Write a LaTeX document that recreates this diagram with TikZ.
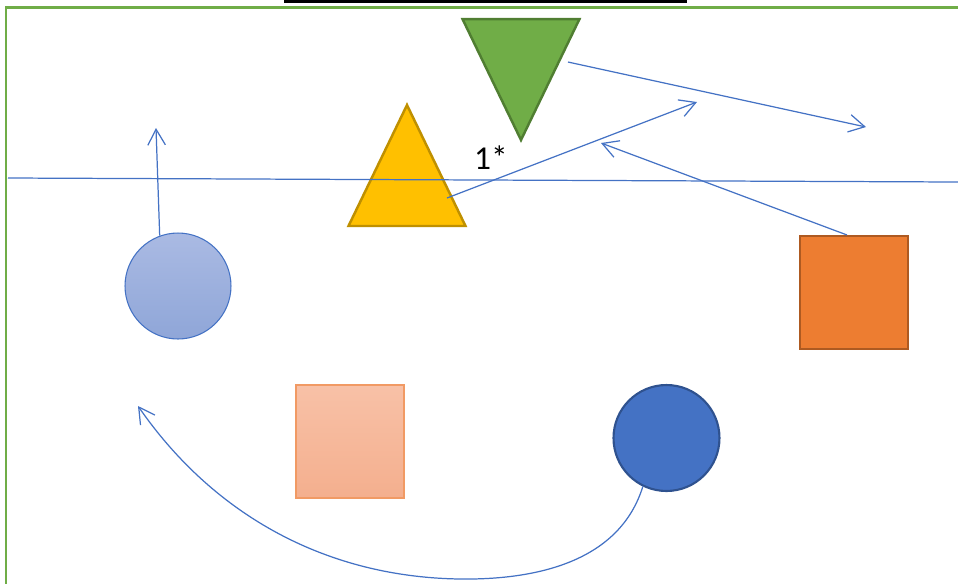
\documentclass[tikz,border=0pt]{standalone}
\usepackage{fontspec}
\setmainfont{Carlito}
\usetikzlibrary{shapes.geometric,arrows.meta}
\definecolor{frameGreen}{HTML}{70AD47}
\definecolor{darkGreen}{HTML}{507E32}
\definecolor{goldFill}{HTML}{FFC000}
\definecolor{goldEdge}{HTML}{BF9000}
\definecolor{orangeFill}{HTML}{ED7D31}
\definecolor{orangeEdge}{HTML}{AE5A21}
\definecolor{lineBlue}{HTML}{4472C4}
\definecolor{navyEdge}{HTML}{2F528F}
\definecolor{paleBlueTop}{HTML}{AABAE3}
\definecolor{paleBlueBot}{HTML}{8FA6D8}
\definecolor{salmonTop}{HTML}{F8C1A7}
\definecolor{salmonBot}{HTML}{F4AF8E}
\definecolor{salmonEdge}{HTML}{F19A64}
\begin{document}
\begin{tikzpicture}[x=0.02cm,y=-0.02cm,every node/.style={font=\fontsize{19}{22}\selectfont},
  link/.style={draw=lineBlue,line width=0.7pt,-{Straight Barb[length=9pt,width=10pt]}},
  tri/.style={isosceles triangle,isosceles triangle stretches,minimum width=2.34cm,minimum height=2.42cm,inner sep=0pt,outer sep=0pt,line width=1.4pt},
  sq/.style={rectangle,minimum width=2.16cm,minimum height=2.26cm,inner sep=0pt},
  disc/.style={circle,minimum size=2.12cm,inner sep=0pt}]
\useasboundingbox (0,0) rectangle (958,583);
\fill[black] (284,0) rectangle (687,3);
\draw[frameGreen,line width=1.7pt] (6,590) -- (6,7) -- (965,7);
\node[tri,shape border rotate=270,anchor=apex,fill=frameGreen,draw=darkGreen] (gtri) at (521,140) {};
\node[tri,shape border rotate=90,anchor=apex,fill=goldFill,draw=goldEdge] (ytri) at (407,105) {};
\draw[lineBlue,line width=0.7pt] (8,178) -- (958,182);
\node (mark) at (491,158) {1*};
\node[disc,draw=lineBlue,line width=0.6pt,top color=paleBlueTop,bottom color=paleBlueBot] (lcircle) at (178,286) {};
\node[sq,fill=orangeFill,draw=orangeEdge,line width=1.2pt] (osq) at (854,292.5) {};
\node[sq,draw=salmonEdge,line width=0.8pt,top color=salmonTop,bottom color=salmonBot] (psq) at (350,441.5) {};
\node[disc,fill=lineBlue,draw=navyEdge,line width=1.2pt] (bcircle) at (666.5,438) {};
\coordinate (upend) at (156,128);
\coordinate (yend) at (697,102);
\coordinate (gend) at (866,127);
\coordinate (oend) at (601,143);
\coordinate (cend) at (138,406);
\draw[link] (lcircle.110) -- (upend);
\draw[link] ([xshift=0.8cm,yshift=-1.86cm]ytri.apex) -- (yend);
\draw[link] ([xshift=0.94cm,yshift=1.56cm]gtri.apex) -- (gend);
\draw[link] (osq.97) -- (oend);
\draw[link] (bcircle.-116) .. controls (620,560) and (540,580) .. (460,579) .. controls (320,577) and (210,510) .. (cend);
\end{tikzpicture}
\end{document}
